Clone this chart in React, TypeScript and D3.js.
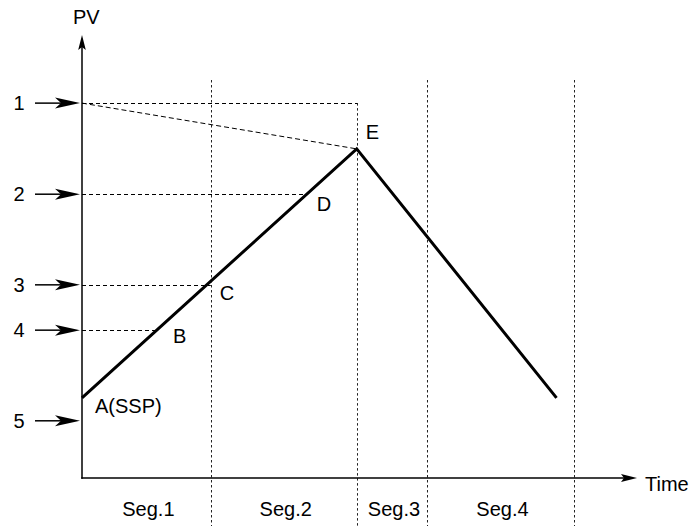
import React from "react";
import * as d3 from "d3";

const levelLabels = ["1", "2", "3", "4", "5"];
const levelValues = [8.52, 6.45, 4.39, 3.36, 1.3];
const profileTimes = [0, 4.95, 8.55];
const profileValues = [1.82, 7.48, 1.82];
const segBoundaries = [2.32, 4.95, 6.22, 8.86];
const segLabels = ["Seg.1", "Seg.2", "Seg.3", "Seg.4"];
const segStarts = [0, 2.32, 4.95, 6.22];
const pointLabels = ["A(SSP)", "B", "C", "D", "E"];
const pointTimes = [0, 1.35, 2.32, 4.05, 4.95];
const pointValues = [1.82, 3.36, 4.39, 6.45, 7.48];

const W = 699, H = 526;
const x = d3.scaleLinear().domain([0, 10]).range([82, 637]);
const y = d3.scaleLinear().domain([0, 10]).range([478, 38]);
const crisp = (v: number) => Math.round(v) + 0.5;

const font = "'Liberation Sans', Arial, sans-serif";
const FS = 20;

function Arrow({ x1, y1, x2, y2, L, Wd, notch }: { x1: number; y1: number; x2: number; y2: number; L: number; Wd: number; notch: number }) {
  const ang = Math.atan2(y2 - y1, x2 - x1);
  const pts: [number, number][] = [
    [0, 0],
    [-L, -Wd],
    [-L + notch, 0],
    [-L, Wd],
  ];
  const c = Math.cos(ang), s = Math.sin(ang);
  const p = pts.map(([a, b]) => `${x2 + a * c - b * s},${y2 + a * s + b * c}`).join(" ");
  return (
    <g>
      <line x1={x1} y1={y1} x2={x2 - (L - notch) * c} y2={y2 - (L - notch) * s} stroke="#000" strokeWidth={1.5} />
      <polygon points={p} fill="#000" />
    </g>
  );
}

// label offsets (in px) for point labels, style only
const labelDx = [13, 16, 9, 10, 9];
const labelDy = [15, 13, 15, 17, -10];

export default function App() {
  const line = d3.line<number>().x((_, i) => x(profileTimes[i])).y((d) => y(d));
  return (
    <svg width={W} height={H} style={{ position: "absolute", left: 0, top: 0, background: "#fff" }} fontFamily={font}>
      <rect width={W} height={H} fill="#fff" />
      {/* vertical segment dashed lines */}
      {segBoundaries.map((t, i) => (
        <line
          key={"v" + i}
          x1={crisp(x(t))}
          x2={crisp(x(t))}
          y1={i === 1 ? y(levelValues[0]) : 80}
          y2={H}
          stroke="#222"
          strokeWidth={1}
          strokeDasharray="2.5,2.5"
        />
      ))}
      {/* horizontal dashed level guides */}
      <line x1={x(0)} x2={crisp(x(profileTimes[1]))} y1={crisp(y(levelValues[0]))} y2={crisp(y(levelValues[0]))} stroke="#000" strokeDasharray="4,3" />
      <line x1={x(0)} x2={x(profileTimes[1])} y1={y(levelValues[0])} y2={y(profileValues[1])} stroke="#000" strokeDasharray="5,3" />
      {[1, 2, 3].map((li) => (
        <line
          key={"h" + li}
          x1={x(0)}
          x2={x(pointTimes[[3, 2, 1][li - 1]])}
          y1={crisp(y(levelValues[li]))}
          y2={crisp(y(levelValues[li]))}
          stroke="#000"
          strokeDasharray="4,3"
        />
      ))}
      {/* axes */}
      <Arrow x1={x(0)} y1={y(0) + 0.75} x2={x(0)} y2={y(10) - 3} L={15} Wd={3.8} notch={3} />
      <Arrow x1={x(0) - 0.75} y1={y(0)} x2={x(10)} y2={y(0)} L={16} Wd={4} notch={3} />
      <text x={73} y={24} fontSize={FS}>PV</text>
      <text x={645} y={491} fontSize={FS}>Time</text>
      {/* level arrows */}
      {levelValues.map((v, i) => (
        <g key={"l" + i}>
          <text x={19} y={y(v) + 7} fontSize={FS} textAnchor="middle">{levelLabels[i]}</text>
          <Arrow x1={35} y1={y(v)} x2={x(0) - 2} y2={y(v)} L={25} Wd={5.5} notch={6} />
        </g>
      ))}
      {/* profile line */}
      <path d={line(profileValues) || ""} fill="none" stroke="#000" strokeWidth={3} strokeLinejoin="miter" />
      {/* point labels */}
      {pointLabels.map((lab, i) => (
        <text key={lab} x={x(pointTimes[i]) + labelDx[i]} y={y(pointValues[i]) + labelDy[i]} fontSize={FS}>
          {lab}
        </text>
      ))}
      {/* segment labels */}
      {segLabels.map((s, i) => (
        <text key={s} x={(x(segStarts[i]) + x(segBoundaries[i])) / 2 + 2} y={516} fontSize={FS} textAnchor="middle">
          {s}
        </text>
      ))}
    </svg>
  );
}
